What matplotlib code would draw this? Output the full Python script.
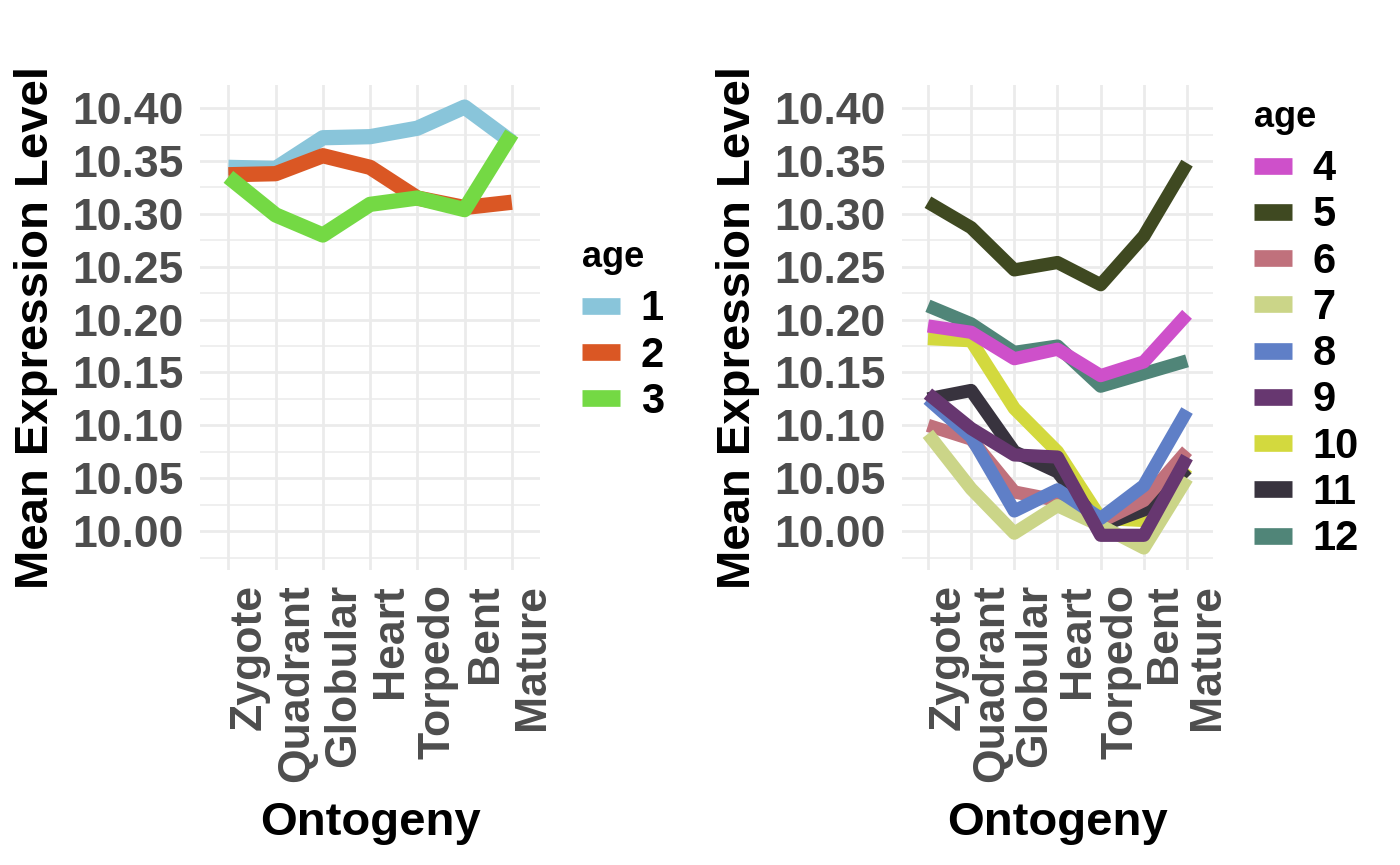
import numpy as np
import matplotlib
matplotlib.use("Agg")
import matplotlib.pyplot as plt
from matplotlib.lines import Line2D
from matplotlib.ticker import MultipleLocator, FormatStrFormatter

plt.rcParams['font.family'] = ['Liberation Sans', 'DejaVu Sans']
plt.rcParams['font.weight'] = 'bold'

stages = ['Zygote', 'Quadrant', 'Globular', 'Heart', 'Torpedo', 'Bent', 'Mature']

# mean expression per age group, one list per age
age1 = [10.344, 10.343, 10.372, 10.373, 10.381, 10.401, 10.368]
age2 = [10.337, 10.338, 10.355, 10.344, 10.315, 10.306, 10.311]
age3 = [10.335, 10.299, 10.280, 10.309, 10.315, 10.304, 10.376]
age4 = [10.194, 10.188, 10.163, 10.172, 10.147, 10.160, 10.205]
age5 = [10.311, 10.287, 10.247, 10.254, 10.233, 10.279, 10.348]
age6 = [10.100, 10.087, 10.037, 10.029, 10.009, 10.029, 10.076]
age7 = [10.092, 10.040, 9.998, 10.024, 10.005, 9.984, 10.050]
age8 = [10.125, 10.089, 10.019, 10.039, 10.012, 10.043, 10.114]
age9 = [10.130, 10.097, 10.072, 10.070, 9.996, 9.996, 10.070]
age10 = [10.182, 10.180, 10.116, 10.075, 10.012, 10.010, 10.060]
age11 = [10.125, 10.133, 10.075, 10.056, 10.005, 10.020, 10.059]
age12 = [10.213, 10.196, 10.169, 10.175, 10.137, 10.149, 10.161]

colors = {1: '#89C5DA', 2: '#DA5724', 3: '#74D944', 4: '#CE50CA', 5: '#3F4921',
          6: '#C0717C', 7: '#CBD588', 8: '#5F7FC7', 9: '#673770', 10: '#D3D93E',
          11: '#38333E', 12: '#508578'}

left = {1: age1, 2: age2, 3: age3}
right = {4: age4, 5: age5, 6: age6, 7: age7, 8: age8, 9: age9,
         10: age10, 11: age11, 12: age12}
# drawing order follows the string sort of the factor levels
right_draw = [10, 11, 12, 4, 5, 6, 7, 8, 9]

allv = np.concatenate([np.array(v) for v in list(left.values()) + list(right.values())])
lo, hi = allv.min(), allv.max()
pad = (hi - lo) * 0.05
ylim = (lo - pad, hi + pad)

fig = plt.figure(figsize=(14, 8.65), dpi=100)
ax1 = fig.add_axes([0.1429, 0.341, 0.2429, 0.5607])
ax2 = fig.add_axes([0.6443, 0.341, 0.2221, 0.5607])

grid = '#EBEBEB'
tick_col = '#4D4D4D'
x = np.arange(len(stages))


def style(ax):
    ax.set_xlim(-0.6, len(stages) - 1 + 0.6)
    ax.set_ylim(*ylim)
    ax.yaxis.set_major_locator(MultipleLocator(0.05))
    ax.yaxis.set_minor_locator(MultipleLocator(0.025))
    ax.yaxis.set_major_formatter(FormatStrFormatter('%.2f'))
    ax.set_xticks(x)
    ax.set_xticklabels(stages, rotation=90, ha='left', va='top')
    for s in ax.spines.values():
        s.set_visible(False)
    ax.tick_params(which='both', length=0, colors=tick_col, labelsize=32)
    ax.tick_params(axis='x', pad=10)
    ax.tick_params(axis='y', pad=12)
    ax.grid(which='major', color=grid, lw=2.0, zorder=0)
    ax.grid(which='minor', axis='y', color=grid, lw=1.1, zorder=0)
    ax.set_axisbelow(True)
    for lbl in ax.get_xticklabels() + ax.get_yticklabels():
        lbl.set_fontweight('bold')
        lbl.set_color(tick_col)
    ax.set_xlabel('Ontogeny', fontsize=34, fontweight='bold', labelpad=14)
    ax.set_ylabel('Mean Expression Level', fontsize=34, fontweight='bold', labelpad=10)


for age in [1, 2, 3]:
    ax1.plot(x, left[age], color=colors[age], lw=11, solid_capstyle='butt',
             solid_joinstyle='round', zorder=2)
for age in right_draw:
    ax2.plot(x, right[age], color=colors[age], lw=9.5, solid_capstyle='butt',
             solid_joinstyle='round', zorder=2)

style(ax1)
style(ax2)


def add_legend(ax, ages, anchor):
    handles = [Line2D([], [], color=colors[a], lw=12, solid_capstyle='butt') for a in ages]
    leg = ax.legend(handles, [str(a) for a in ages], title='age', loc='upper left',
                    bbox_to_anchor=anchor, bbox_transform=fig.transFigure,
                    frameon=False, fontsize=30, title_fontsize=26,
                    handlelength=0.9, handletextpad=0.5, labelspacing=0.15,
                    borderpad=0, borderaxespad=0, alignment='left')
    leg.get_title().set_fontweight('bold')
    leg._legend_box.sep = 10
    for t in leg.get_texts():
        t.set_fontweight('bold')


add_legend(ax1, [1, 2, 3], (0.416, 0.722))
add_legend(ax2, [4, 5, 6, 7, 8, 9, 10, 11, 12], (0.896, 0.884))

fig.savefig('out.png', dpi=100, facecolor='white')
